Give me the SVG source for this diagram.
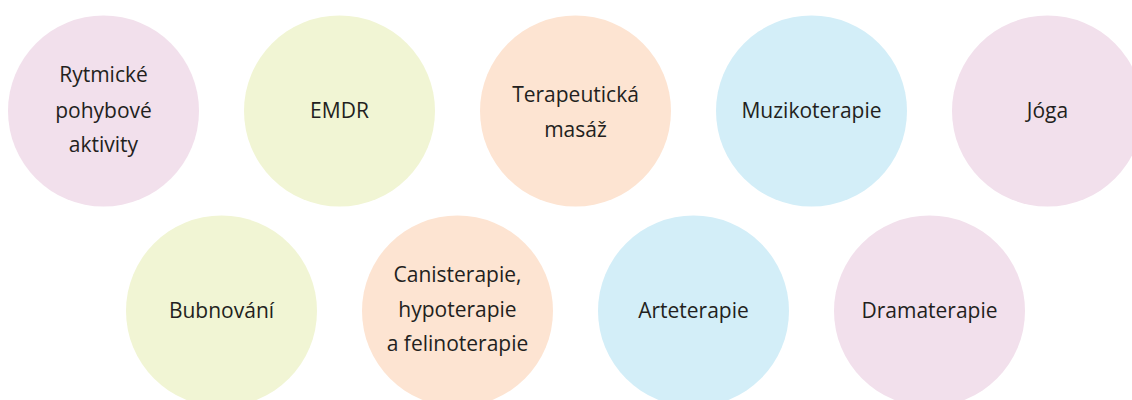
<svg xmlns="http://www.w3.org/2000/svg" width="1132" height="400" viewBox="0 0 1132 400">
<style>
.pink{fill:#F2E0EC}.green{fill:#F1F5D4}.peach{fill:#FDE4D2}.blue{fill:#D3EEF8}
text{font-family:"Open Sans","Noto Sans",sans-serif;font-size:21px;fill:#231F20;text-anchor:middle}
</style>
<rect width="1132" height="400" fill="#FFFFFF"/>
<g id="n1"><circle class="pink" cx="103.5" cy="111" r="95.5"/><text x="103.5" y="82">Rytmické</text><text x="103.5" y="118">pohybové</text><text x="103.5" y="152">aktivity</text></g>
<g id="n2"><circle class="green" cx="339.5" cy="111" r="95.5"/><text x="339.5" y="118">EMDR</text></g>
<g id="n3"><circle class="peach" cx="575.5" cy="111" r="95.5"/><text x="575.5" y="102">Terapeutická</text><text x="575.5" y="137">masáž</text></g>
<g id="n4"><circle class="blue" cx="811.5" cy="111" r="95.5"/><text x="811.5" y="118">Muzikoterapie</text></g>
<g id="n5"><circle class="pink" cx="1047.5" cy="111" r="95.5"/><text x="1047.5" y="118">Jóga</text></g>
<g id="n6"><circle class="green" cx="221.5" cy="311" r="95.5"/><text x="221.5" y="318">Bubnování</text></g>
<g id="n7"><circle class="peach" cx="457.5" cy="311" r="95.5"/><text x="457.5" y="282">Canisterapie,</text><text x="457.5" y="317">hypoterapie</text><text x="457.5" y="351">a felinoterapie</text></g>
<g id="n8"><circle class="blue" cx="693.5" cy="311" r="95.5"/><text x="693.5" y="318">Arteterapie</text></g>
<g id="n9"><circle class="pink" cx="929.5" cy="311" r="95.5"/><text x="929.5" y="318">Dramaterapie</text></g>
<g id="connectors"/>
</svg>
